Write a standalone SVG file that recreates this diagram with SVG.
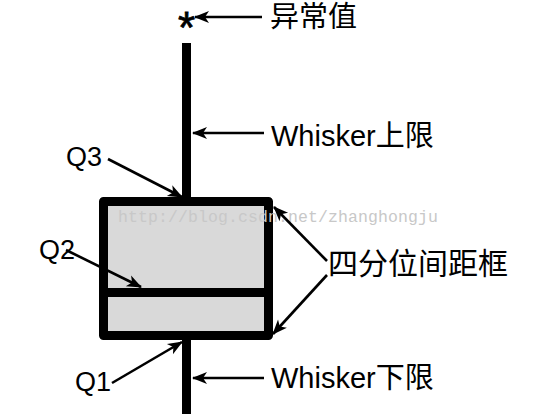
<svg xmlns="http://www.w3.org/2000/svg" width="541" height="414" viewBox="0 0 541 414">
<style>
.lbl{font-family:"Liberation Sans","Noto Sans CJK SC",sans-serif;fill:#000}
.arr{stroke:#000;stroke-width:2.6;fill:none;marker-end:url(#ah)}
.thick{stroke:#000;stroke-width:9;fill:none}
</style>
<defs>
<marker id="ah" markerUnits="userSpaceOnUse" markerWidth="15" markerHeight="12" refX="14" refY="6" orient="auto" overflow="visible">
<path d="M0,0 L15,6 L0,12 L4,6 z" fill="#000"/>
</marker>
</defs>
<rect width="541" height="414" fill="#fff"/>
<g id="whisker">
<line class="thick" x1="186.5" y1="43" x2="186.5" y2="201"/>
<line class="thick" x1="186.5" y1="336" x2="186.5" y2="414"/>
</g>
<g id="box">
<rect x="103.5" y="201.5" width="165" height="134" fill="#d9d9d9" stroke="#000" stroke-width="9" stroke-linejoin="round"/>
<line class="thick" x1="103.5" y1="292.5" x2="268.5" y2="292.5" stroke-width="8"/>
</g>
<text id="watermark" x="118" y="222" font-family="Liberation Mono,monospace" font-size="16.5" fill="#c8c8c8" textLength="320">http://blog.csdn.net/zhanghongju</text>
<g id="outlier">
<text class="lbl" x="186.5" y="43" font-size="44" text-anchor="middle" stroke="#000" stroke-width="0.8">*</text>
</g>
<g id="connectors">
<line class="arr" x1="262" y1="17" x2="195" y2="17"/>
<line class="arr" x1="264" y1="133" x2="193" y2="133"/>
<line class="arr" x1="264" y1="378" x2="193" y2="378"/>
<line class="arr" x1="108" y1="159" x2="182" y2="197"/>
<line class="arr" x1="66" y1="250" x2="141" y2="287"/>
<line class="arr" x1="112" y1="383" x2="182" y2="342"/>
<line class="arr" x1="327" y1="261" x2="274" y2="207"/>
<line class="arr" x1="327" y1="275" x2="273" y2="334"/>
</g>
<g id="label-outlier"><text class="lbl" x="270" y="27" font-size="29">异常值</text></g>
<g id="label-upper"><text class="lbl" x="271" y="146" font-size="29">Whisker上限</text></g>
<g id="label-lower"><text class="lbl" x="271" y="388" font-size="29">Whisker下限</text></g>
<g id="label-q3"><text class="lbl" x="66" y="166" font-size="27">Q3</text></g>
<g id="label-q2"><text class="lbl" x="39" y="259" font-size="27">Q2</text></g>
<g id="label-q1"><text class="lbl" x="75" y="391" font-size="27">Q1</text></g>
<g id="label-iqr"><text class="lbl" x="328" y="274" font-size="30">四分位间距框</text></g>
</svg>
